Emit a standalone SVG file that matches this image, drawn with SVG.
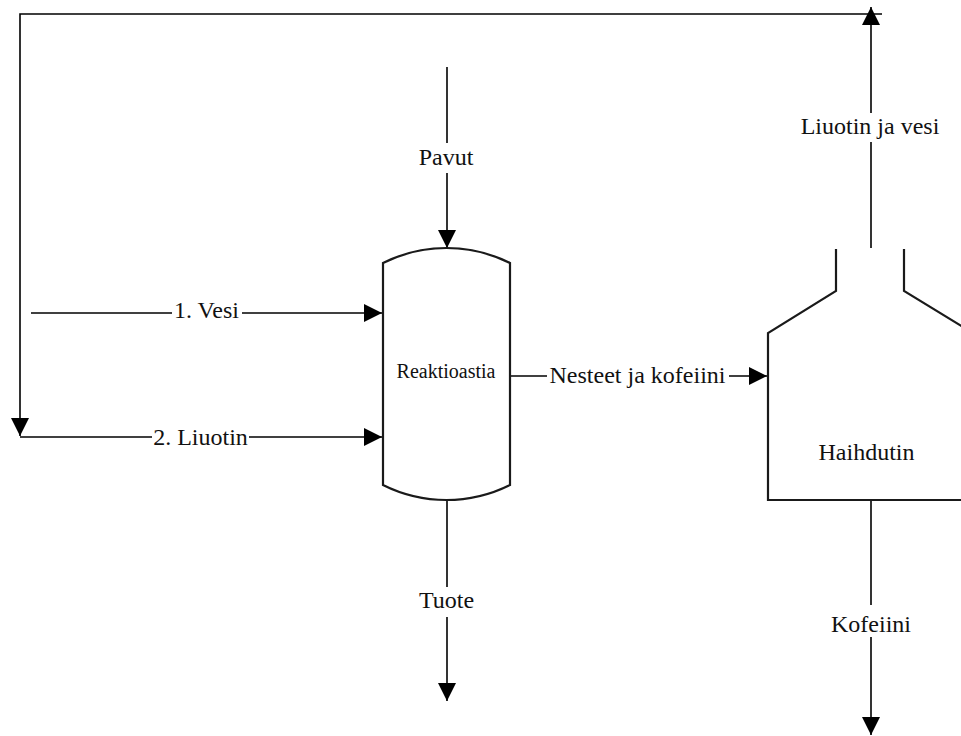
<svg xmlns="http://www.w3.org/2000/svg" width="961" height="736" viewBox="0 0 961 736">
  <style>
    .ln { stroke: #000; stroke-width: 1.6; fill: none; }
    .vs { stroke: #1a1a1a; stroke-width: 2.2; fill: #fff; stroke-linejoin: miter; }
    text { font-family: 'Liberation Serif', 'Times New Roman', Times, 'DejaVu Serif', serif; font-size: 24px; fill: #111; text-anchor: middle; }
    .sm { font-size: 20px; }
  </style>
  <defs>
    <marker id="arr" markerUnits="userSpaceOnUse" markerWidth="18" markerHeight="18" refX="18" refY="9" orient="auto">
      <path d="M0,0 L18,9 L0,18 z" fill="#000"/>
    </marker>
  </defs>
  <rect width="961" height="736" fill="#fff"/>

  <g id="connectors">
    <!-- recycle loop over the top and down the left side -->
    <path class="ln" d="M882,14 L20,14 L20,436" marker-end="url(#arr)"/>
    <!-- feed 1: water -->
    <line class="ln" x1="31" y1="313" x2="172" y2="313"/>
    <line class="ln" x1="242" y1="313" x2="382" y2="313" marker-end="url(#arr)"/>
    <!-- feed 2: solvent -->
    <line class="ln" x1="20" y1="437" x2="152" y2="437"/>
    <line class="ln" x1="249" y1="437" x2="382" y2="437" marker-end="url(#arr)"/>
    <!-- beans in -->
    <line class="ln" x1="447" y1="67" x2="447" y2="143"/>
    <line class="ln" x1="447" y1="173" x2="447" y2="248" marker-end="url(#arr)"/>
    <!-- product out -->
    <line class="ln" x1="447" y1="499" x2="447" y2="587"/>
    <line class="ln" x1="447" y1="617" x2="447" y2="701" marker-end="url(#arr)"/>
    <!-- liquids to evaporator -->
    <line class="ln" x1="510" y1="376" x2="547" y2="376"/>
    <line class="ln" x1="729" y1="376" x2="767" y2="376" marker-end="url(#arr)"/>
    <!-- vapour up -->
    <line class="ln" x1="871" y1="248" x2="871" y2="142"/>
    <line class="ln" x1="871" y1="113" x2="871" y2="7" marker-end="url(#arr)"/>
    <!-- caffeine out -->
    <line class="ln" x1="871" y1="500" x2="871" y2="605"/>
    <line class="ln" x1="871" y1="637" x2="871" y2="735" marker-end="url(#arr)"/>
  </g>

  <g id="reaktioastia">
    <path class="vs" d="M383,263 A142,142 0 0 1 510,263 L510,485 A142,142 0 0 1 383,485 Z"/>
    <text class="sm" x="446" y="378">Reaktioastia</text>
  </g>

  <g id="haihdutin">
    <path fill="#fff" d="M836,249 L836,291 L768,333 L768,500 L963,500 L963,327 L904,291 L904,249"/>
    <path class="vs" fill="none" d="M836,249 L836,291 L768,333 L768,500 L963,500 M904,249 L904,291 L963,327"/>
    <text x="866.5" y="460">Haihdutin</text>
  </g>

  <g id="labels">
    <text x="206.5" y="318">1. Vesi</text>
    <text x="200.5" y="445">2. Liuotin</text>
    <text x="446" y="165">Pavut</text>
    <text x="446.5" y="608">Tuote</text>
    <text x="637.5" y="383">Nesteet ja kofeiini</text>
    <text x="870" y="134">Liuotin ja vesi</text>
    <text x="871" y="632">Kofeiini</text>
  </g>
</svg>
